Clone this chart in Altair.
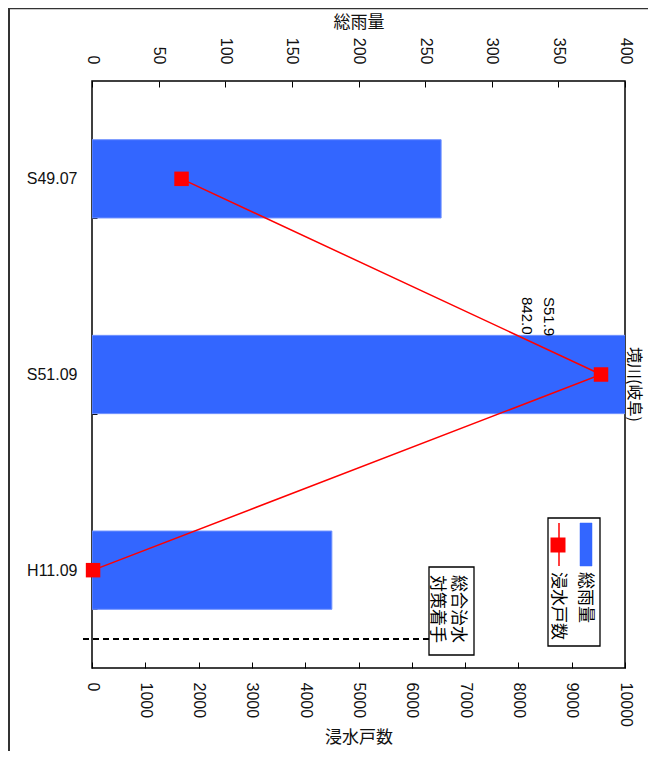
import altair as alt
import pandas as pd

# ---- data ----
categories = ["S49.07", "S51.09", "H11.09"]
rainfall = [262.0, 842.0, 180.0]          # 総雨量 (mm), S51.09 exceeds the 400 axis
flooded_houses = [1680, 9550, 20]         # 浸水戸数
order_idx = [0, 1, 2]

rain_ticks = [0, 50, 100, 150, 200, 250, 300, 350, 400]
house_ticks = [0, 1000, 2000, 3000, 4000, 5000, 6000, 7000, 8000, 9000, 10000]

rain_title = "総雨量"
house_title = "浸水戸数"
river_label = "境川(岐阜)"
peak_note = ["S51.9", "842.0"]
policy_note = ["総合治水", "対策着手"]
legend_labels = ["総雨量", "浸水戸数"]

LATIN = "Liberation Sans, Arial, sans-serif"
CJK = "Noto Sans CJK JP, sans-serif"
BLUE = "#3366FF"
RED = "#FF0000"

df = pd.DataFrame({"event": categories, "rain": rainfall,
                   "houses": flooded_houses, "idx": order_idx})

y_enc = alt.Y(
    "event:N", sort=categories, title=None,
    scale=alt.Scale(paddingInner=0.6, paddingOuter=0.3),
    axis=alt.Axis(orient="left", domain=False, tickBand="extent", offset=-5,
                  tickSize=5, tickColor="#000", tickWidth=1, labelPadding=15,
                  labelFont=LATIN, labelFontSize=16, labelColor="#111",
                  labelAngle=0),
)

bars = alt.Chart(df).mark_bar(color=BLUE, stroke="#7092ff", strokeWidth=1, clip=True).encode(
    x=alt.X("rain:Q", title=rain_title,
            scale=alt.Scale(domain=[0, 400], nice=False, zero=True),
            axis=alt.Axis(orient="top", values=rain_ticks, format="d", domain=False, offset=-6,
                          tickSize=6, tickColor="#000", tickWidth=1,
                          labelAngle=90, labelAlign="right", labelBaseline="middle",
                          labelPadding=17, labelFlush=False, labelOverlap=False,
                          labelFont=LATIN, labelFontSize=16, labelColor="#111",
                          titleFont=CJK, titleFontSize=17, titleFontWeight="normal",
                          titleColor="#111", titlePadding=6, grid=False)),
    y=y_enc,
)

x_house = alt.X("houses:Q", title=house_title,
                scale=alt.Scale(domain=[0, 10000], nice=False, zero=True),
                axis=alt.Axis(orient="bottom", values=house_ticks, format="d", domain=False, offset=-6,
                              tickSize=6, tickColor="#000", tickWidth=1,
                              labelAngle=90, labelAlign="left", labelBaseline="middle",
                              labelPadding=14, labelFlush=False, labelOverlap=False,
                              labelFont=LATIN, labelFontSize=16, labelColor="#111",
                              titleFont=CJK, titleFontSize=17, titleFontWeight="normal",
                              titleColor="#111", titlePadding=3, grid=False))

base = alt.Chart(df).encode(x=x_house, y=y_enc, order=alt.Order("idx:Q"))
house_layer = alt.layer(
    base.mark_line(color=RED, strokeWidth=1.5),
    base.mark_square(color=RED, size=210, opacity=1),
)


def one(row):
    return pd.DataFrame([row])


def text(t, x, y, size, font, angle=90, align="left"):
    return alt.Chart(one({"t": t})).mark_text(
        angle=angle, align=align, baseline="middle", fontSize=size, font=font, color="#000"
    ).encode(x=alt.value(x), y=alt.value(y), text="t:N")


def box(x, x2, y, y2, fill="#fff", stroke="#000", sw=1.3):
    return alt.Chart(one({"k": 1})).mark_rect(fill=fill, stroke=stroke, strokeWidth=sw).encode(
        x=alt.value(x), x2=alt.value(x2), y=alt.value(y), y2=alt.value(y2))


# dashed marker for 総合治水対策着手
dash = alt.Chart(one({"k": 1})).mark_rule(color="#000", strokeWidth=2, strokeDash=[6, 4]).encode(
    x=alt.value(-9), x2=alt.value(337), y=alt.value(558))

policy_box = box(337, 382, 486, 574)
policy_t1 = text(policy_note[0], 366, 494, 17, CJK)
policy_t2 = text(policy_note[1], 345, 494, 17, CJK)

legend_box = box(456, 508, 437, 565)
legend_swatch = box(488, 500, 442, 485, fill=BLUE, stroke=BLUE, sw=0.5)
legend_line = alt.Chart(one({"k": 1})).mark_rule(color=RED, strokeWidth=1.5).encode(
    x=alt.value(467), y=alt.value(442), y2=alt.value(485))
legend_sq = alt.Chart(one({"k": 1})).mark_square(color=RED, size=225, opacity=1).encode(
    x=alt.value(466), y=alt.value(464))
legend_t1 = text(legend_labels[0], 493, 491, 17, CJK)
legend_t2 = text(legend_labels[1], 466, 491, 17, CJK)

river = text(river_label, 542, 266, 16, CJK)
peak1 = text(peak_note[0], 457, 216, 15, LATIN)
peak2 = text(peak_note[1], 435, 216, 15, LATIN)

# outer frame of the original picture
frame_top = alt.Chart(one({"k": 1})).mark_rule(color="#333", strokeWidth=1.5).encode(
    x=alt.value(-84), x2=alt.value(556), y=alt.value(-72.5))
frame_left = alt.Chart(one({"k": 1})).mark_rule(color="#333", strokeWidth=2).encode(
    x=alt.value(-83), y=alt.value(-73), y2=alt.value(671))

chart = alt.layer(
    bars, house_layer, dash, policy_box, policy_t1, policy_t2,
    legend_box, legend_swatch, legend_line, legend_sq, legend_t1, legend_t2,
    river, peak1, peak2, frame_top, frame_left,
).resolve_scale(x="independent").properties(
    width=533, height=587,
    padding={"left": 84, "top": 73, "right": 23, "bottom": 83},
    autosize=alt.AutoSizeParams(type="none"),
    background="#ffffff",
).configure_view(stroke="#000", strokeWidth=1.5)

chart.save("out.html", embed_options={"renderer": "svg", "actions": False})
